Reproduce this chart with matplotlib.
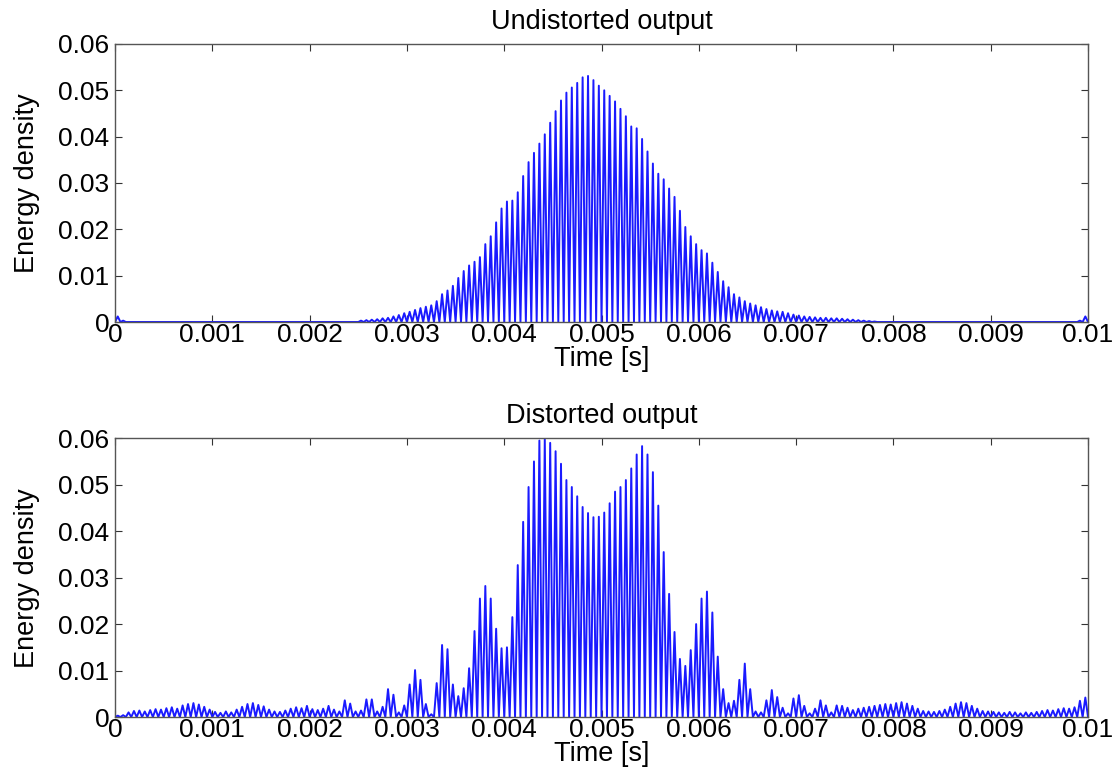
import numpy as np
import matplotlib
matplotlib.use("Agg")
import matplotlib.pyplot as plt

plt.rcParams['font.family'] = ['Liberation Sans', 'DejaVu Sans']

# peak height of each oscillation cycle, 18 cycles per millisecond
undistorted_peaks = [
    # 0.000 - 0.001
    0.0012, 0.0003, 0, 0, 0, 0, 0, 0, 0, 0, 0, 0, 0, 0, 0, 0, 0, 0,
    # 0.001 - 0.002
    0, 0, 0, 0, 0, 0, 0, 0, 0, 0, 0, 0, 0, 0, 0, 0, 0, 0,
    # 0.002 - 0.003
    0, 0, 0, 0, 0, 0, 0, 0, 0, 0.0003, 0.0004, 0.0005, 0.0006, 0.0008,
    0.0009, 0.0012, 0.0015, 0.0019,
    # 0.003 - 0.004
    0.0022, 0.0026, 0.0030, 0.0033, 0.0036, 0.0045, 0.0060, 0.0068, 0.0078,
    0.0095, 0.0110, 0.0122, 0.0130, 0.0140, 0.0168, 0.0185, 0.0215, 0.0245,
    # 0.004 - 0.005
    0.0260, 0.0262, 0.0280, 0.0315, 0.0345, 0.0365, 0.0385, 0.0405, 0.0430,
    0.0455, 0.0478, 0.0495, 0.0506, 0.0516, 0.0528, 0.0531, 0.0522, 0.0510,
    # 0.005 - 0.006
    0.0500, 0.0488, 0.0476, 0.0460, 0.0444, 0.0422, 0.0418, 0.0395, 0.0368,
    0.0342, 0.0320, 0.0308, 0.0288, 0.0270, 0.0240, 0.0205, 0.0185, 0.0168,
    # 0.006 - 0.007
    0.0155, 0.0148, 0.0128, 0.0108, 0.0088, 0.0075, 0.0060, 0.0053, 0.0045,
    0.0040, 0.0036, 0.0032, 0.0028, 0.0025, 0.0023, 0.0022, 0.0019, 0.0016,
    # 0.007 - 0.008
    0.0014, 0.0012, 0.0011, 0.0010, 0.0009, 0.0009, 0.0008, 0.0008, 0.0007,
    0.0006, 0.0005, 0.0004, 0.0003, 0.0002, 0.0001, 0, 0, 0,
    # 0.008 - 0.009
    0, 0, 0, 0, 0, 0, 0, 0, 0, 0, 0, 0, 0, 0, 0, 0, 0, 0,
    # 0.009 - 0.010
    0, 0, 0, 0, 0, 0, 0, 0, 0, 0, 0, 0, 0, 0, 0, 0, 0.0003, 0.0012,
]

distorted_peaks = [
    # 0.000 - 0.001
    0.0003, 0.0004, 0.0010, 0.0013, 0.0014, 0.0012, 0.0015, 0.0017, 0.0016,
    0.0019, 0.0021, 0.0018, 0.0025, 0.0028, 0.0030, 0.0027, 0.0022, 0.0016,
    # 0.001 - 0.002
    0.0011, 0.0009, 0.0012, 0.0010, 0.0016, 0.0022, 0.0028, 0.0030, 0.0026,
    0.0023, 0.0016, 0.0012, 0.0011, 0.0014, 0.0018, 0.0021, 0.0019, 0.0024,
    # 0.002 - 0.003
    0.0017, 0.0015, 0.0018, 0.0024, 0.0016, 0.0012, 0.0036, 0.0029, 0.0012,
    0.0014, 0.0038, 0.0038, 0.0012, 0.0022, 0.0060, 0.0048, 0.0010, 0.0025,
    # 0.003 - 0.004
    0.0070, 0.0101, 0.0080, 0.0028, 0.0006, 0.0073, 0.0155, 0.0146, 0.0070,
    0.0045, 0.0062, 0.0105, 0.0185, 0.0255, 0.0282, 0.0255, 0.0190, 0.0148,
    # 0.004 - 0.005
    0.0150, 0.0215, 0.0327, 0.0420, 0.0495, 0.0550, 0.0595, 0.0600, 0.0590,
    0.0572, 0.0545, 0.0510, 0.0495, 0.0475, 0.0452, 0.0439, 0.0430, 0.0431,
    # 0.005 - 0.006
    0.0440, 0.0460, 0.0485, 0.0495, 0.0510, 0.0535, 0.0565, 0.0583, 0.0565,
    0.0527, 0.0455, 0.0355, 0.0265, 0.0183, 0.0125, 0.0110, 0.0144, 0.0200,
    # 0.006 - 0.007
    0.0255, 0.0270, 0.0225, 0.0130, 0.0060, 0.0030, 0.0035, 0.0080, 0.0115,
    0.0060, 0.0012, 0.0010, 0.0036, 0.0058, 0.0043, 0.0020, 0.0008, 0.0040,
    # 0.007 - 0.008
    0.0047, 0.0024, 0.0008, 0.0018, 0.0036, 0.0025, 0.0010, 0.0025, 0.0024,
    0.0020, 0.0015, 0.0018, 0.0020, 0.0022, 0.0024, 0.0026, 0.0028, 0.0027,
    # 0.008 - 0.009
    0.0030, 0.0032, 0.0029, 0.0024, 0.0018, 0.0013, 0.0012, 0.0011, 0.0013,
    0.0016, 0.0022, 0.0029, 0.0032, 0.0030, 0.0024, 0.0018, 0.0013, 0.0012,
    # 0.009 - 0.010
    0.0011, 0.0010, 0.0009, 0.0011, 0.0010, 0.0008, 0.0010, 0.0009, 0.0011,
    0.0013, 0.0015, 0.0014, 0.0017, 0.0019, 0.0018, 0.0021, 0.0035, 0.0042,
]

titles = ["Undistorted output", "Distorted output"]
x_ticks = [0, 0.001, 0.002, 0.003, 0.004, 0.005, 0.006, 0.007, 0.008, 0.009, 0.01]
x_tick_labels = ["0", "0.001", "0.002", "0.003", "0.004", "0.005", "0.006",
                 "0.007", "0.008", "0.009", "0.01"]
y_ticks = [0, 0.01, 0.02, 0.03, 0.04, 0.05, 0.06]
y_tick_labels = ["0", "0.01", "0.02", "0.03", "0.04", "0.05", "0.06"]
t_end = 0.01


def cycle_trace(peaks):
    # each cycle: trough -> peak -> trough
    n = len(peaks)
    dt = t_end / n
    t = np.arange(2 * n + 1) * dt / 2
    y = np.zeros(2 * n + 1)
    y[1::2] = peaks
    return t, y


fig = plt.figure(figsize=(11.18, 7.81), dpi=100)
ax1 = fig.add_axes([0.1029, 0.5877, 0.8703, 0.356])
ax2 = fig.add_axes([0.1029, 0.0819, 0.8703, 0.357])

for ax, peaks, title in zip([ax1, ax2], [undistorted_peaks, distorted_peaks], titles):
    t, y = cycle_trace(peaks)
    ax.plot(t, y, color="#1a1aff", lw=1.4)
    ax.set_xlim(0, t_end)
    ax.set_ylim(0, 0.06)
    ax.set_xticks(x_ticks)
    ax.set_xticklabels(x_tick_labels)
    ax.set_yticks(y_ticks)
    ax.set_yticklabels(y_tick_labels)
    ax.tick_params(direction="in", top=True, right=True, length=5,
                   labelsize=19, color="#333333")
    ax.tick_params(axis="x", pad=1)
    ax.tick_params(axis="y", pad=4)
    for s in ax.spines.values():
        s.set_color("#555555")
        s.set_linewidth(1.0)
    ax.set_title(title, fontsize=19.5, pad=11)
    ax.set_xlabel("Time [s]", fontsize=19.5, labelpad=-1)
    ax.set_ylabel("Energy density", fontsize=19.5, labelpad=13)

fig.savefig("out.png", dpi=100)
